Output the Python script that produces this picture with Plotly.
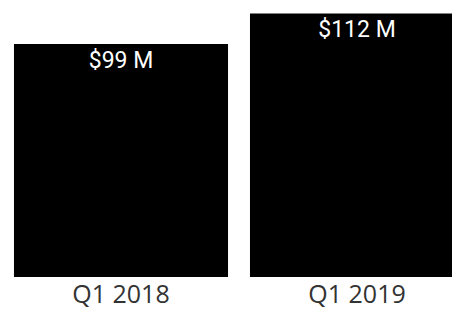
import plotly.graph_objects as go

categories = ["Q1 2018", "Q1 2019"]
revenue_musd = [99, 112]
value_labels = ["$99 M", "$112 M"]

fig = go.Figure(
    go.Bar(
        x=categories,
        y=revenue_musd,
        text=value_labels,
        textposition="inside",
        insidetextanchor="end",
        textangle=0,
        textfont=dict(family="Roboto, sans-serif", size=23, color="white"),
        marker=dict(color="black", line=dict(width=0)),
        width=0.907,
        hoverinfo="skip",
    )
)

fig.update_layout(
    width=452,
    height=310,
    margin=dict(l=0, r=0, t=0, b=33, pad=0),
    paper_bgcolor="white",
    plot_bgcolor="white",
    showlegend=False,
    uniformtext=dict(mode=False),
    xaxis=dict(
        range=[-0.5127, 1.4025],
        showgrid=False,
        zeroline=False,
        showline=False,
        ticks="",
        tickfont=dict(family="Open Sans, sans-serif", size=25, color="#333333"),
        fixedrange=True,
    ),
    yaxis=dict(
        range=[0, 117.7],
        visible=False,
        showgrid=False,
        zeroline=False,
        fixedrange=True,
    ),
)

fig.write_html(
    "out.html",
    config={"displayModeBar": False},
    post_script="document.body.style.margin='0';document.body.style.overflow='hidden';",
)
